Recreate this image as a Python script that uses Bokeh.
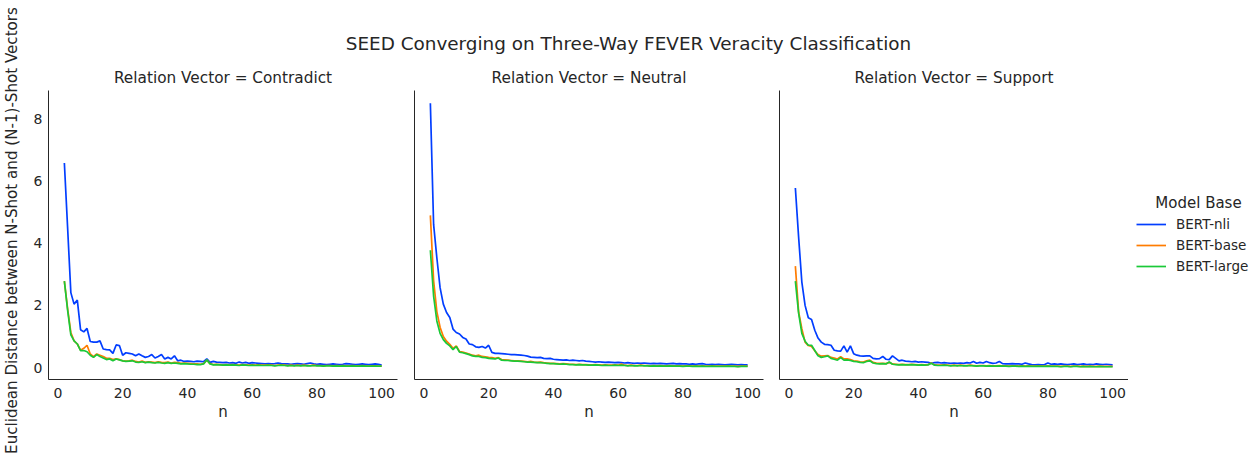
import math
from bokeh.plotting import figure
from bokeh.layouts import row, column
from bokeh.models import Range1d, Legend, LegendItem, Label, FixedTicker
from bokeh.embed import file_html
from bokeh.resources import INLINE

# ---------------- data ----------------
n_values = list(range(2, 101))
panel_names = ["Contradict", "Neutral", "Support"]
model_names = ["BERT-nli", "BERT-base", "BERT-large"]
model_colors = ["#023eff", "#ff7c00", "#1ac938"]

contradict_nli = [
    6.57, 4.50, 2.41, 2.04, 2.17, 1.22, 1.15, 1.26, 0.84, 0.82,
    0.82, 0.86, 0.60, 0.58, 0.57, 0.46, 0.73, 0.71, 0.40, 0.48,
    0.46, 0.44, 0.38, 0.44, 0.38, 0.33, 0.36, 0.42, 0.31, 0.36,
    0.42, 0.28, 0.33, 0.28, 0.38, 0.22, 0.24, 0.20, 0.21, 0.20,
    0.19, 0.21, 0.20, 0.19, 0.28, 0.17, 0.20, 0.18, 0.17, 0.16,
    0.17, 0.15, 0.16, 0.14, 0.18, 0.15, 0.17, 0.14, 0.16, 0.15,
    0.14, 0.13, 0.12, 0.13, 0.12, 0.13, 0.15, 0.13, 0.12, 0.12,
    0.11, 0.12, 0.13, 0.12, 0.11, 0.13, 0.15, 0.12, 0.11, 0.12,
    0.11, 0.10, 0.11, 0.12, 0.11, 0.10, 0.11, 0.13, 0.12, 0.11,
    0.10, 0.11, 0.12, 0.11, 0.10, 0.11, 0.12, 0.11, 0.08,
]
contradict_base = [
    2.78, 1.90, 1.13, 0.86, 0.76, 0.56, 0.62, 0.72, 0.44, 0.35,
    0.44, 0.40, 0.36, 0.30, 0.30, 0.26, 0.28, 0.26, 0.22, 0.21,
    0.22, 0.24, 0.20, 0.18, 0.21, 0.17, 0.19, 0.18, 0.16, 0.19,
    0.17, 0.16, 0.18, 0.15, 0.17, 0.16, 0.14, 0.15, 0.14, 0.13,
    0.12, 0.12, 0.11, 0.13, 0.24, 0.13, 0.10, 0.11, 0.10, 0.09,
    0.10, 0.09, 0.10, 0.09, 0.08, 0.10, 0.09, 0.08, 0.09, 0.08,
    0.09, 0.08, 0.08, 0.09, 0.08, 0.07, 0.08, 0.09, 0.08, 0.07,
    0.08, 0.07, 0.08, 0.07, 0.08, 0.07, 0.07, 0.08, 0.07, 0.07,
    0.06, 0.07, 0.07, 0.06, 0.07, 0.06, 0.07, 0.06, 0.06, 0.07,
    0.06, 0.06, 0.07, 0.06, 0.05, 0.06, 0.06, 0.05, 0.05,
]
contradict_large = [
    2.78, 1.85, 1.05, 0.86, 0.76, 0.55, 0.55, 0.51, 0.40, 0.33,
    0.42, 0.36, 0.31, 0.26, 0.28, 0.22, 0.28, 0.25, 0.22, 0.20,
    0.21, 0.22, 0.18, 0.17, 0.19, 0.16, 0.18, 0.16, 0.15, 0.17,
    0.15, 0.14, 0.16, 0.14, 0.15, 0.14, 0.12, 0.13, 0.12, 0.11,
    0.11, 0.10, 0.10, 0.12, 0.25, 0.12, 0.09, 0.10, 0.09, 0.08,
    0.09, 0.08, 0.09, 0.08, 0.07, 0.09, 0.08, 0.07, 0.08, 0.07,
    0.08, 0.07, 0.07, 0.08, 0.07, 0.06, 0.07, 0.08, 0.07, 0.06,
    0.07, 0.06, 0.07, 0.06, 0.07, 0.06, 0.06, 0.07, 0.06, 0.06,
    0.05, 0.06, 0.06, 0.05, 0.06, 0.05, 0.06, 0.05, 0.05, 0.06,
    0.05, 0.05, 0.06, 0.05, 0.05, 0.05, 0.05, 0.05, 0.05,
]

neutral_nli = [
    8.49, 4.60, 3.53, 2.57, 2.04, 1.77, 1.61, 1.24, 1.13, 1.08,
    0.97, 0.92, 0.76, 0.74, 0.67, 0.65, 0.68, 0.63, 0.72, 0.49,
    0.46, 0.46, 0.45, 0.44, 0.43, 0.42, 0.42, 0.41, 0.40, 0.39,
    0.37, 0.34, 0.33, 0.32, 0.33, 0.30, 0.29, 0.30, 0.27, 0.26,
    0.25, 0.24, 0.25, 0.23, 0.24, 0.23, 0.22, 0.23, 0.21, 0.20,
    0.19, 0.18, 0.19, 0.18, 0.17, 0.18, 0.17, 0.16, 0.17, 0.16,
    0.15, 0.16, 0.15, 0.14, 0.15, 0.14, 0.15, 0.14, 0.13, 0.14,
    0.13, 0.14, 0.13, 0.12, 0.13, 0.14, 0.12, 0.13, 0.12, 0.12,
    0.11, 0.12, 0.11, 0.12, 0.13, 0.11, 0.10, 0.11, 0.10, 0.11,
    0.10, 0.09, 0.10, 0.11, 0.10, 0.09, 0.10, 0.09, 0.09,
]
neutral_base = [
    4.89, 2.80, 1.80, 1.30, 1.00, 0.85, 0.75, 0.62, 0.70, 0.52,
    0.50, 0.47, 0.44, 0.40, 0.38, 0.40, 0.36, 0.35, 0.33, 0.32,
    0.30, 0.32, 0.26, 0.25, 0.24, 0.23, 0.22, 0.22, 0.21, 0.20,
    0.19, 0.20, 0.18, 0.17, 0.18, 0.16, 0.15, 0.14, 0.14, 0.13,
    0.12, 0.13, 0.12, 0.11, 0.11, 0.10, 0.11, 0.10, 0.10, 0.09,
    0.09, 0.10, 0.09, 0.08, 0.09, 0.08, 0.08, 0.09, 0.08, 0.12,
    0.08, 0.07, 0.08, 0.07, 0.07, 0.08, 0.07, 0.07, 0.06, 0.07,
    0.06, 0.07, 0.06, 0.06, 0.07, 0.06, 0.06, 0.06, 0.05, 0.06,
    0.06, 0.05, 0.06, 0.05, 0.06, 0.05, 0.05, 0.06, 0.05, 0.05,
    0.05, 0.05, 0.06, 0.05, 0.05, 0.04, 0.05, 0.05, 0.05,
]
neutral_large = [
    3.77, 2.30, 1.50, 1.10, 0.90, 0.78, 0.70, 0.58, 0.68, 0.50,
    0.48, 0.45, 0.42, 0.38, 0.36, 0.36, 0.33, 0.32, 0.30, 0.29,
    0.28, 0.31, 0.24, 0.23, 0.23, 0.22, 0.21, 0.21, 0.20, 0.19,
    0.18, 0.18, 0.17, 0.16, 0.16, 0.15, 0.14, 0.13, 0.13, 0.12,
    0.11, 0.12, 0.11, 0.10, 0.10, 0.09, 0.10, 0.09, 0.09, 0.08,
    0.08, 0.09, 0.08, 0.07, 0.08, 0.07, 0.07, 0.08, 0.07, 0.08,
    0.07, 0.06, 0.07, 0.06, 0.06, 0.07, 0.06, 0.06, 0.05, 0.06,
    0.05, 0.06, 0.05, 0.05, 0.06, 0.05, 0.05, 0.05, 0.04, 0.05,
    0.05, 0.04, 0.05, 0.04, 0.05, 0.04, 0.04, 0.05, 0.04, 0.04,
    0.04, 0.04, 0.05, 0.04, 0.04, 0.03, 0.04, 0.04, 0.04,
]

support_nli = [
    5.77, 4.20, 2.75, 2.00, 1.60, 1.55, 1.20, 0.95, 0.82, 0.75,
    0.74, 0.72, 0.56, 0.54, 0.53, 0.70, 0.50, 0.70, 0.45, 0.40,
    0.38, 0.37, 0.38, 0.38, 0.30, 0.28, 0.29, 0.36, 0.27, 0.26,
    0.38, 0.30, 0.22, 0.24, 0.21, 0.20, 0.19, 0.20, 0.18, 0.19,
    0.18, 0.17, 0.14, 0.16, 0.17, 0.15, 0.16, 0.15, 0.14, 0.15,
    0.14, 0.15, 0.14, 0.16, 0.15, 0.20, 0.14, 0.17, 0.15, 0.20,
    0.16, 0.14, 0.15, 0.20, 0.13, 0.12, 0.12, 0.13, 0.12, 0.12,
    0.11, 0.15, 0.12, 0.10, 0.09, 0.10, 0.09, 0.10, 0.15, 0.11,
    0.12, 0.11, 0.12, 0.11, 0.10, 0.11, 0.12, 0.10, 0.11, 0.12,
    0.10, 0.11, 0.10, 0.12, 0.11, 0.10, 0.11, 0.10, 0.09,
]
support_base = [
    3.26, 1.80, 1.25, 0.82, 0.71, 0.68, 0.54, 0.42, 0.37, 0.38,
    0.39, 0.33, 0.31, 0.28, 0.35, 0.28, 0.28, 0.26, 0.22, 0.21,
    0.19, 0.18, 0.22, 0.24, 0.17, 0.15, 0.14, 0.14, 0.13, 0.17,
    0.12, 0.11, 0.10, 0.11, 0.10, 0.10, 0.11, 0.10, 0.09, 0.10,
    0.09, 0.10, 0.15, 0.09, 0.08, 0.08, 0.09, 0.08, 0.07, 0.08,
    0.07, 0.08, 0.07, 0.07, 0.08, 0.07, 0.06, 0.07, 0.07, 0.06,
    0.07, 0.06, 0.06, 0.07, 0.06, 0.06, 0.05, 0.06, 0.06, 0.05,
    0.06, 0.05, 0.06, 0.05, 0.05, 0.06, 0.05, 0.05, 0.06, 0.05,
    0.05, 0.05, 0.04, 0.05, 0.05, 0.04, 0.05, 0.05, 0.04, 0.05,
    0.04, 0.05, 0.04, 0.04, 0.05, 0.04, 0.04, 0.04, 0.04,
]
support_large = [
    2.78, 1.75, 1.10, 0.85, 0.72, 0.72, 0.55, 0.38, 0.33, 0.35,
    0.38, 0.30, 0.27, 0.24, 0.32, 0.24, 0.25, 0.23, 0.20, 0.19,
    0.17, 0.16, 0.20, 0.22, 0.15, 0.13, 0.12, 0.13, 0.12, 0.18,
    0.11, 0.10, 0.09, 0.10, 0.09, 0.09, 0.10, 0.09, 0.08, 0.09,
    0.08, 0.09, 0.14, 0.08, 0.07, 0.07, 0.08, 0.07, 0.06, 0.07,
    0.06, 0.07, 0.06, 0.06, 0.07, 0.06, 0.05, 0.06, 0.06, 0.05,
    0.06, 0.05, 0.05, 0.06, 0.05, 0.05, 0.04, 0.05, 0.05, 0.04,
    0.05, 0.04, 0.05, 0.04, 0.04, 0.05, 0.04, 0.04, 0.05, 0.04,
    0.04, 0.04, 0.03, 0.04, 0.04, 0.03, 0.04, 0.04, 0.03, 0.04,
    0.03, 0.04, 0.03, 0.03, 0.04, 0.03, 0.03, 0.03, 0.03,
]

x_ticks = [0, 20, 40, 60, 80, 100]
y_ticks = [0, 2, 4, 6, 8]

suptitle = "SEED Converging on Three-Way FEVER Veracity Classification"
y_label = "Euclidean Distance between N-Shot and (N-1)-Shot Vectors"
x_label = "n"
legend_title = "Model Base"

panel_series = [
    [contradict_nli, contradict_base, contradict_large],
    [neutral_nli, neutral_base, neutral_large],
    [support_nli, support_base, support_large],
]
for group in panel_series:
    for s in group:
        assert len(s) == len(n_values), len(s)

# ---------------- style ----------------
FONT = "DejaVu Sans"
TXT = "#262626"
AX = "#262626"
LW = 1.7


def blank(width, height):
    f = figure(width=width, height=height, x_range=Range1d(0, width), y_range=Range1d(0, height),
               x_axis_type=None, y_axis_type=None, min_border=0,
               output_backend="svg", toolbar_location=None)
    f.outline_line_color = None
    f.grid.visible = False
    return f


# left strip holding the (long) y-axis label
strip = blank(22, 458)
strip.add_layout(Label(x=11, y=228, text=y_label, angle=math.pi / 2,
                       text_align="center", text_baseline="middle",
                       text_font=FONT, text_font_size="15.1px", text_color=TXT))

# suptitle
title_fig = blank(1234, 60)
title_fig.add_layout(Label(x=606, y=17, text=suptitle, text_align="center",
                           text_baseline="middle", text_font=FONT,
                           text_font_size="18.4px", text_color=TXT))

y_range = Range1d(-0.38, 8.9)
borders = [(26, 8), (9, 7), (9, 0)]
figs = []
for i, (name, series) in enumerate(zip(panel_names, panel_series)):
    bl, br = borders[i]
    p = figure(frame_width=349, frame_height=289,
               x_range=Range1d(-2.9, 104.9), y_range=y_range,
               output_backend="svg", toolbar_location=None,
               min_border_left=bl, min_border_right=br,
               min_border_top=30, min_border_bottom=50,
               title="Relation Vector = " + name)
    p.title.align = "center"
    p.title.text_font = FONT
    p.title.text_font_size = "15.3px"
    p.title.text_font_style = "normal"
    p.title.text_color = TXT
    p.title.standoff = 7
    p.outline_line_color = None
    p.grid.visible = False

    for axis in (p.xaxis[0], p.yaxis[0]):
        axis.axis_line_color = AX
        axis.axis_line_width = 1
        axis.major_tick_line_color = None
        axis.minor_tick_line_color = None
        axis.major_tick_out = 0
        axis.major_tick_in = 0
        axis.minor_tick_out = 0
        axis.minor_tick_in = 0
        axis.major_label_text_font = FONT
        axis.major_label_text_font_size = "14px"
        axis.major_label_text_color = TXT
        axis.axis_label_text_font = FONT
        axis.axis_label_text_font_size = "15px"
        axis.axis_label_text_font_style = "normal"
        axis.axis_label_text_color = TXT
        axis.major_label_standoff = 6
    p.xaxis[0].ticker = FixedTicker(ticks=x_ticks)
    p.xaxis[0].major_label_standoff = 8
    p.xaxis[0].axis_label = x_label
    p.xaxis[0].axis_label_standoff = 2
    if i == 0:
        p.yaxis[0].ticker = FixedTicker(ticks=y_ticks)
    else:
        p.yaxis[0].ticker = FixedTicker(ticks=[])
        p.yaxis[0].major_label_standoff = 0

    for s, color in zip(series, model_colors):
        p.line(n_values, s, line_color=color, line_width=LW)
    figs.append(p)

# legend panel: same frame geometry as the panels; the series lie out of its view,
# its ranges are in pixels (x offset by 200 so that n <= 100 is never visible)
leg_fig = figure(frame_width=120, frame_height=289,
                 x_range=Range1d(200, 320), y_range=Range1d(0, 289),
                 x_axis_type=None, y_axis_type=None,
                 min_border_left=8, min_border_right=0, min_border_top=30, min_border_bottom=50,
                 output_backend="svg", toolbar_location=None)
leg_fig.outline_line_color = None
leg_fig.grid.visible = False
leg_items = []
for m, s, color in zip(model_names, panel_series[2], model_colors):
    r = leg_fig.line(n_values, s, line_color=color, line_width=LW)
    leg_items.append(LegendItem(label=m, renderers=[r]))
legend = Legend(
    items=leg_items, location=(0, 105), orientation="vertical",
    border_line_color=None, background_fill_alpha=0,
    margin=0, padding=4, glyph_width=30, glyph_height=16, label_height=16,
    label_standoff=10, spacing=5,
    label_text_font=FONT, label_text_font_size="13.5px", label_text_color=TXT,
)
leg_fig.add_layout(legend, "center")
leg_fig.add_layout(Label(x=262, y=177, text=legend_title, text_align="center",
                         text_baseline="middle", text_font=FONT,
                         text_font_size="15px", text_color=TXT))

layout = row(strip, column(title_fig, row(*figs, leg_fig)))

open("out.html", "w").write(file_html(layout, INLINE))
